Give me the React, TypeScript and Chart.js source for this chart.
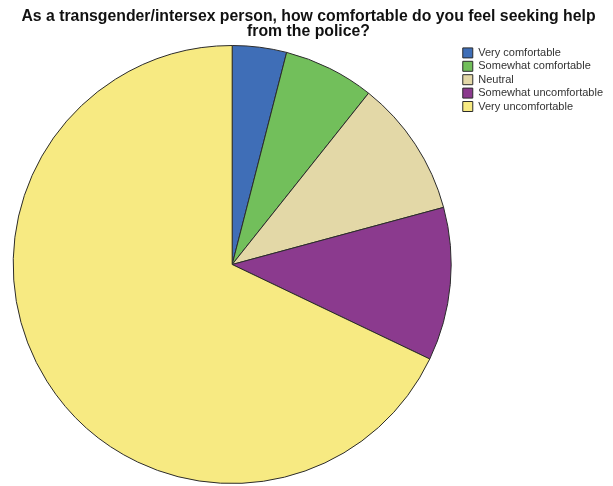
import React, { useEffect, useRef } from "react";
import { Chart, registerables } from "chart.js";

Chart.register(...registerables);

const titleLines = [
  "As a transgender/intersex person, how comfortable do you feel seeking help",
  "from the police?",
];
const categories = [
  "Very comfortable",
  "Somewhat comfortable",
  "Neutral",
  "Somewhat uncomfortable",
  "Very uncomfortable",
];
const percentages = [4.0, 6.7, 10.1, 11.3, 67.9];
const sliceColors = ["#3F6EB7", "#72BF5B", "#E3D8A7", "#8B3A8E", "#F7EA82"];

const FONT = "'Liberation Sans', Arial, Helvetica, sans-serif";

export default function App() {
  const canvasRef = useRef<HTMLCanvasElement | null>(null);

  useEffect(() => {
    if (!canvasRef.current) return;
    const chart = new Chart(canvasRef.current, {
      type: "pie",
      data: {
        labels: categories,
        datasets: [
          {
            data: percentages,
            backgroundColor: sliceColors,
            borderColor: "#2b2b2b",
            borderWidth: 1,
          },
        ],
      },
      options: {
        responsive: false,
        animation: false,
        layout: { padding: { left: 4, right: 0, top: 0, bottom: 2 } },
        plugins: {
          title: {
            display: true,
            text: titleLines,
            color: "#111111",
            font: { family: FONT, size: 15.8, weight: "bold", lineHeight: "15.5px" },
            padding: { top: 8.6, bottom: 5.4 },
          },
          legend: {
            display: true,
            position: "right",
            align: "start",
            fullSize: false,
            labels: {
              color: "#333333",
              font: { family: FONT, size: 11 },
              boxWidth: 10,
              boxHeight: 10,
              padding: 2.4,
            },
          },
          tooltip: { enabled: false },
        },
      },
    });
    return () => chart.destroy();
  }, []);

  return (
    <div
      style={{
        position: "fixed",
        left: 0,
        top: 0,
        width: 613,
        height: 486,
        overflow: "hidden",
        background: "#ffffff",
      }}
    >
      <canvas ref={canvasRef} width={613} height={486} style={{ display: "block" }} />
    </div>
  );
}
